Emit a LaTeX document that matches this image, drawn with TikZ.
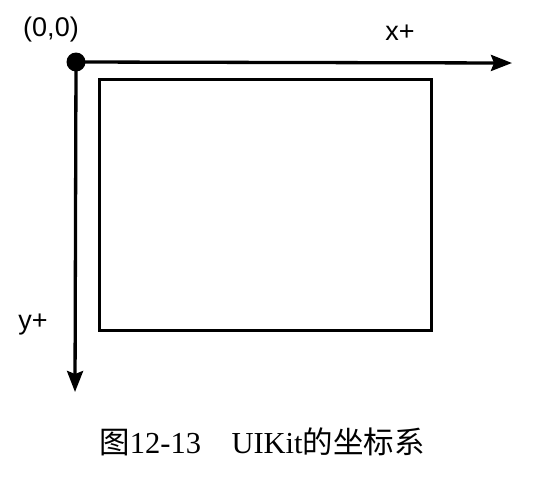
\documentclass[tikz,border=0pt]{standalone}
\usepackage{fontspec}
\setmainfont{Liberation Serif}
\setsansfont{Liberation Sans}
\newfontfamily\cjk{Noto Sans CJK SC}
\usepackage{tikz}
\usetikzlibrary{arrows.meta,positioning}

\begin{document}
\begin{tikzpicture}[x=1pt,y=-1pt,>={Stealth[length=21pt,width=16pt,inset=3pt]},
        axis/.style={line width=3.3pt},
        axislabel/.style={font=\sffamily\fontsize{27}{30}\selectfont,inner sep=0pt}]
        \useasboundingbox (0,0) rectangle (556,480);
        \coordinate (O) at (76,62);
        \coordinate (X) at (512,63);
        \coordinate (Y) at (75,392);
        \draw[axis,->] (O) -- (X);
        \draw[axis,->] (O) -- (Y);
        \fill (O) circle (9.5);
        \node[draw,line width=3pt,anchor=north west,minimum width=332pt,minimum height=251pt,inner sep=0pt] (view) at (98,78) {};
        \node[axislabel] (origin) at (51,30) {(0,0)};
        \node[axislabel] (xlabel) at (400,33) {x+};
        \node[axislabel] (ylabel) at (33,325) {y+};
        \node[font=\fontsize{30.5}{34}\selectfont,inner sep=0pt] (caption) at (262,442) {{\cjk 图}12-13\quad UIKit{\cjk 的坐标系}};
    \end{tikzpicture}
\end{document}
